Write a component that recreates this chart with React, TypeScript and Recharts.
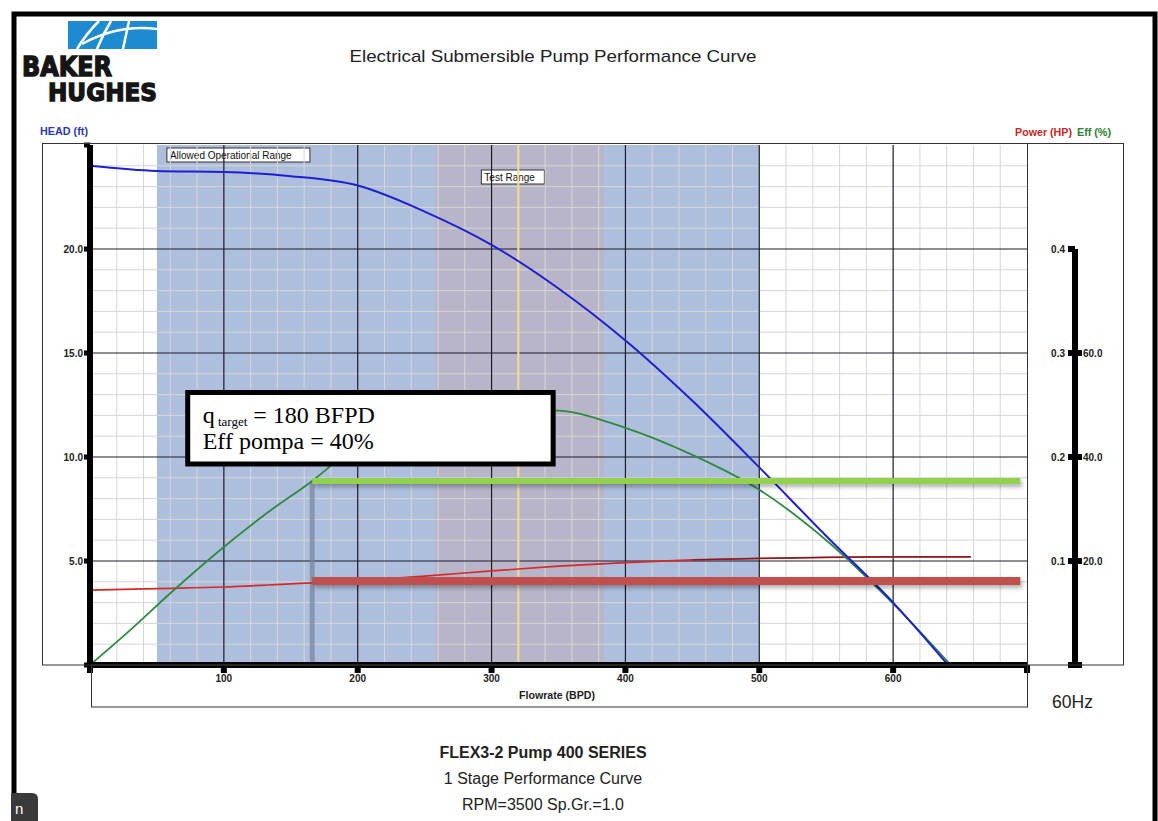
import React from "react";
import { CartesianGrid, ComposedChart, Line, ReferenceArea, ReferenceLine, XAxis, YAxis } from "recharts";

// axis ticks
const flowTicks = [0, 100, 200, 300, 400, 500, 600, 700];
const flowTickLabels = ["", "100", "200", "300", "400", "500", "600", ""];
const flowMinor = [20, 40, 60, 80, 120, 140, 160, 180, 220, 240, 260, 280, 320, 340, 360, 380, 420, 440, 460, 480, 520, 540, 560, 580, 620, 640, 660, 680];
const headTicks = [0, 5, 10, 15, 20, 25];
const headTickLabels = ["", "5.0", "10.0", "15.0", "20.0", ""];
const headMinor = [1, 2, 3, 4, 6, 7, 8, 9, 11, 12, 13, 14, 16, 17, 18, 19, 21, 22, 23, 24];
const powerTicks = [0, 0.1, 0.2, 0.3, 0.4];
const powerTickLabels = ["", "0.1", "0.2", "0.3", "0.4"];
// eff labels sit on the same marks as the power ones (0 / 20 / 40 / 60 / 80 %)
const effTickLabels = ["", "20.0", "40.0", "60.0", ""];

// pump curves (flowrate BPD)
const headQ = [0, 50, 100, 150, 200, 250, 300, 350, 400, 450, 500, 550, 600, 641];
const headFt = [24.0, 23.75, 23.7, 23.5, 23.05, 21.8, 20.2, 18.1, 15.6, 12.7, 9.5, 6.2, 3.0, 0];

const effQ = [0, 30, 60, 100, 130, 166, 200, 250, 300, 350, 400, 450, 500, 550, 600, 643];
const effPct = [0, 6.7, 13.8, 22.7, 28.8, 35.4, 42.3, 46.8, 49.2, 48.9, 45.6, 40.4, 33.7, 24.0, 11.8, 0];

const powerQ = [0, 50, 100, 150, 200, 250, 300, 350, 400, 450, 500, 550, 600, 658];
const powerHp = [0.072, 0.0735, 0.075, 0.078, 0.081, 0.0855, 0.0905, 0.095, 0.0985, 0.101, 0.1025, 0.1035, 0.104, 0.104];

// ranges and annotations
const allowedRange = [50, 500];
const testRange = [258, 384];
const testPoint = 320;
const targetQ = 166;
const barEnd = 695;
const targetEff = 35.4;
const targetPower = 0.0808;
const noteBox = { q: [73, 346], head: [9.66, 13.1] };

const headData = headQ.map((q, i) => ({ q, v: headFt[i] }));
const effData = effQ.map((q, i) => ({ q, v: effPct[i] }));
const powerData = powerQ.map((q, i) => ({ q, v: powerHp[i] }));
const powerTail = powerData.filter(d => d.q >= 450);

const tickFont = {
  fontSize: 10,
  fontWeight: 700,
  fill: "#222",
  fontFamily: "'Liberation Sans Narrow', 'Liberation Sans', Arial, sans-serif"
};

function RightTick(props: any) {
  const { x, y, index } = props;
  const lx = x + 48;
  return (
    <g>
      <rect x={lx - 7} y={y - 3} width={7} height={6} fill="#000" />
      {effTickLabels[index] !== "" || index === 0 ? <rect x={lx} y={y - 3} width={7} height={6} fill="#000" /> : null}
      <text x={lx - 10} y={y} dy="0.35em" textAnchor="end" {...tickFont}>
        {powerTickLabels[index]}
      </text>
      <text x={lx + 8} y={y} dy="0.35em" textAnchor="start" {...tickFont}>
        {effTickLabels[index]}
      </text>
    </g>
  );
}

function RangeTag(props: any) {
  const { viewBox, text, dx, dy, w } = props;
  if (!viewBox) return null;
  const x = viewBox.x + dx;
  const y = viewBox.y + dy;
  return (
    <g>
      <rect x={x} y={y} width={w} height={14} fill="#fff" stroke="#333" strokeWidth={1} />
      <text x={x + 3} y={y + 11} fontSize={10} fill="#111" fontFamily="'Liberation Sans', Arial, sans-serif">
        {text}
      </text>
    </g>
  );
}

function TargetNote(props: any) {
  const { viewBox } = props;
  if (!viewBox) return null;
  const x = viewBox.x + 15;
  return (
    <g fontFamily="'Liberation Serif', 'Times New Roman', serif" fontSize={24} fill="#000">
      <text x={x} y={viewBox.y + 30}>
        q<tspan fontSize={13} dy={3}> target</tspan>
        <tspan dy={-3}> = 180 BFPD</tspan>
      </text>
      <text x={x} y={viewBox.y + 56}>Eff pompa = 40%</text>
    </g>
  );
}

function Decorations() {
  return (
    <svg width={1158} height={821} style={{ position: "absolute", left: 0, top: 0, pointerEvents: "none" }}>
      <rect x={14} y={14} width={1141} height={1000} fill="none" stroke="#000" strokeWidth={5} />
      {/* frames around plot */}
      <rect x={42.5} y={143.5} width={1081} height={521.5} fill="none" stroke="#333" strokeWidth={1} />
      <line x1={1027.5} y1={143} x2={1027.5} y2={665} stroke="#333" strokeWidth={1} />
      <rect x={91.5} y={665} width={936} height={42} fill="none" stroke="#333" strokeWidth={1} />

      {/* logo */}
      <rect x={68} y={21} width={89} height={28} fill="#1e8ad0" />
      <g stroke="#fff" strokeWidth={2.5} fill="none">
        <path d="M77 49 Q86 34 99 21" />
        <path d="M97 49 Q103 34 111 21" />
        <path d="M123 49 L129 21" />
        <path d="M82 44 Q118 24 157 29" />
      </g>
      <g fontFamily="'DejaVu Sans', Arial, sans-serif" fontWeight={900} fill="#151515" stroke="#151515" strokeWidth={1.4}>
        <text x={22} y={76} fontSize={26} textLength={90} lengthAdjust="spacingAndGlyphs">BAKER</text>
        <text x={48} y={101} fontSize={25} textLength={109} lengthAdjust="spacingAndGlyphs">HUGHES</text>
      </g>

      <text x={553} y={62} textAnchor="middle" fontSize={17} fill="#222" fontFamily="'Liberation Sans', Arial, sans-serif" textLength={407} lengthAdjust="spacingAndGlyphs">
        Electrical Submersible Pump Performance Curve
      </text>

      <g fontSize={10.5} fontWeight={700} fontFamily="'Liberation Sans Narrow', 'Liberation Sans', Arial, sans-serif">
        <text x={40} y={135} fill="#2b3aa8" textLength={48} lengthAdjust="spacingAndGlyphs">HEAD (ft)</text>
        <text x={1015} y={136} fill="#c62828" textLength={57} lengthAdjust="spacingAndGlyphs">Power (HP)</text>
        <text x={1077} y={136} fill="#2e7d32" textLength={34} lengthAdjust="spacingAndGlyphs">Eff (%)</text>
        <text x={557} y={699} fill="#222" textAnchor="middle" textLength={76} lengthAdjust="spacingAndGlyphs">Flowrate (BPD)</text>
      </g>

      <text x={1052} y={708} fontSize={19} fill="#222" fontFamily="'Liberation Sans Narrow', 'Liberation Sans', Arial, sans-serif" textLength={41} lengthAdjust="spacingAndGlyphs">
        60Hz
      </text>

      <g fontFamily="'Liberation Sans', Arial, sans-serif" fill="#222" textAnchor="middle">
        <text x={543} y={758} fontSize={16} fontWeight={700}>FLEX3-2 Pump 400 SERIES</text>
        <text x={543} y={784} fontSize={16}>1 Stage Performance Curve</text>
        <text x={543} y={810} fontSize={16}>RPM=3500 Sp.Gr.=1.0</text>
      </g>

      <path d="M11 793 L32 793 Q38 793 38 799 L38 821 L11 821 Z" fill="#3a3a3a" />
      <text x={15} y={814} fontSize={15} fill="#fff" fontFamily="'Liberation Sans', Arial, sans-serif">n</text>
    </svg>
  );
}

export default function App() {
  return (
    <div style={{ position: "absolute", left: 0, top: 0, width: 1158, height: 821, background: "#fff", overflow: "hidden" }}>
      <div style={{ position: "absolute", left: 0, top: 0 }}>
        <ComposedChart width={1158} height={821} margin={{ top: 145, right: 35, bottom: 126, left: 40 }}>
          <XAxis
            dataKey="q"
            type="number"
            domain={[0, 700]}
            ticks={flowTicks}
            interval={0}
            tickFormatter={(v, i) => flowTickLabels[i]}
            height={30}
            axisLine={{ stroke: "#000", strokeWidth: 6 }}
            tickLine={{ stroke: "#000", strokeWidth: 6 }}
            tickSize={8}
            tickMargin={2}
            tick={tickFont}
            allowDataOverflow
          />
          <YAxis
            yAxisId="head"
            domain={[0, 25]}
            ticks={headTicks}
            interval={0}
            tickFormatter={(v, i) => headTickLabels[i]}
            width={50}
            axisLine={{ stroke: "#000", strokeWidth: 6 }}
            tickLine={{ stroke: "#000", strokeWidth: 5 }}
            tickSize={6}
            tickMargin={1}
            tick={tickFont}
          />
          <YAxis
            yAxisId="power"
            orientation="right"
            width={96}
            domain={[0, 0.5]}
            ticks={powerTicks}
            interval={0}
            axisLine={{ stroke: "#000", strokeWidth: 6, strokeDasharray: "0 104 416", transform: "translate(48 0)" }}
            tickLine={false}
            tickSize={0}
            tickMargin={0}
            tick={<RightTick />}
          />
          <YAxis yAxisId="eff" orientation="right" hide width={0} domain={[0, 100]} />

          <ReferenceArea
            yAxisId="head"
            x1={allowedRange[0]}
            x2={allowedRange[1]}
            y1={0}
            y2={25}
            fill="#aebfdd"
            fillOpacity={1}
            stroke="none"
            zIndex={-300}
            label={<RangeTag text="Allowed Operational Range" dx={10} dy={3} w={143} />}
          />
          <ReferenceArea
            yAxisId="head"
            x1={testRange[0]}
            x2={testRange[1]}
            y1={0}
            y2={25}
            fill="#b9b5c9"
            fillOpacity={1}
            stroke="none"
            zIndex={-250}
            label={<RangeTag text="Test Range" dx={46} dy={25} w={63} />}
          />

          <CartesianGrid yAxisId="head" horizontalValues={headMinor} verticalValues={flowMinor} stroke="#d6d6d6" strokeWidth={1} />
          <CartesianGrid yAxisId="head" horizontalValues={[5, 10, 15, 20]} verticalValues={[100, 200, 300, 400, 500, 600]} stroke="#1c1c2c" strokeWidth={1.2} />

          <ReferenceLine yAxisId="head" x={testPoint} stroke="#efe08a" strokeWidth={2} />
          <ReferenceLine
            yAxisId="eff"
            segment={[{ x: targetQ, y: 0 }, { x: targetQ, y: targetEff }]}
            stroke="#75839c"
            strokeWidth={5}
            strokeOpacity={0.7}
          />

          <Line yAxisId="power" data={powerData} dataKey="v" type="monotone" stroke="#d42a2a" strokeWidth={1.7} dot={false} activeDot={false} isAnimationActive={false} />
          <Line yAxisId="power" data={powerTail} dataKey="v" type="monotone" stroke="#7c1d1d" strokeWidth={1.2} dot={false} activeDot={false} isAnimationActive={false} />
          <Line yAxisId="eff" data={effData} dataKey="v" type="monotone" stroke="#2e8b3e" strokeWidth={1.8} dot={false} activeDot={false} isAnimationActive={false} />
          <Line yAxisId="head" data={headData} dataKey="v" type="monotone" stroke="#1f1fcf" strokeWidth={2} dot={false} activeDot={false} isAnimationActive={false} />

          <ReferenceLine
            yAxisId="eff"
            segment={[{ x: targetQ, y: targetEff }, { x: barEnd, y: targetEff }]}
            stroke="#92d050"
            strokeWidth={6}
            zIndex={450}
            style={{ filter: "drop-shadow(2px 3px 2px rgba(0,0,0,0.3))" }}
          />
          <ReferenceLine
            yAxisId="power"
            segment={[{ x: targetQ, y: targetPower }, { x: barEnd, y: targetPower }]}
            stroke="#c0504d"
            strokeWidth={8}
            zIndex={450}
            style={{ filter: "drop-shadow(2px 3px 2px rgba(0,0,0,0.3))" }}
          />

          <ReferenceArea
            yAxisId="head"
            x1={noteBox.q[0]}
            x2={noteBox.q[1]}
            y1={noteBox.head[0]}
            y2={noteBox.head[1]}
            fill="#fff"
            fillOpacity={1}
            stroke="#000"
            strokeWidth={5}
            zIndex={1500}
            label={<TargetNote />}
          />
        </ComposedChart>
      </div>
      <Decorations />
    </div>
  );
}
